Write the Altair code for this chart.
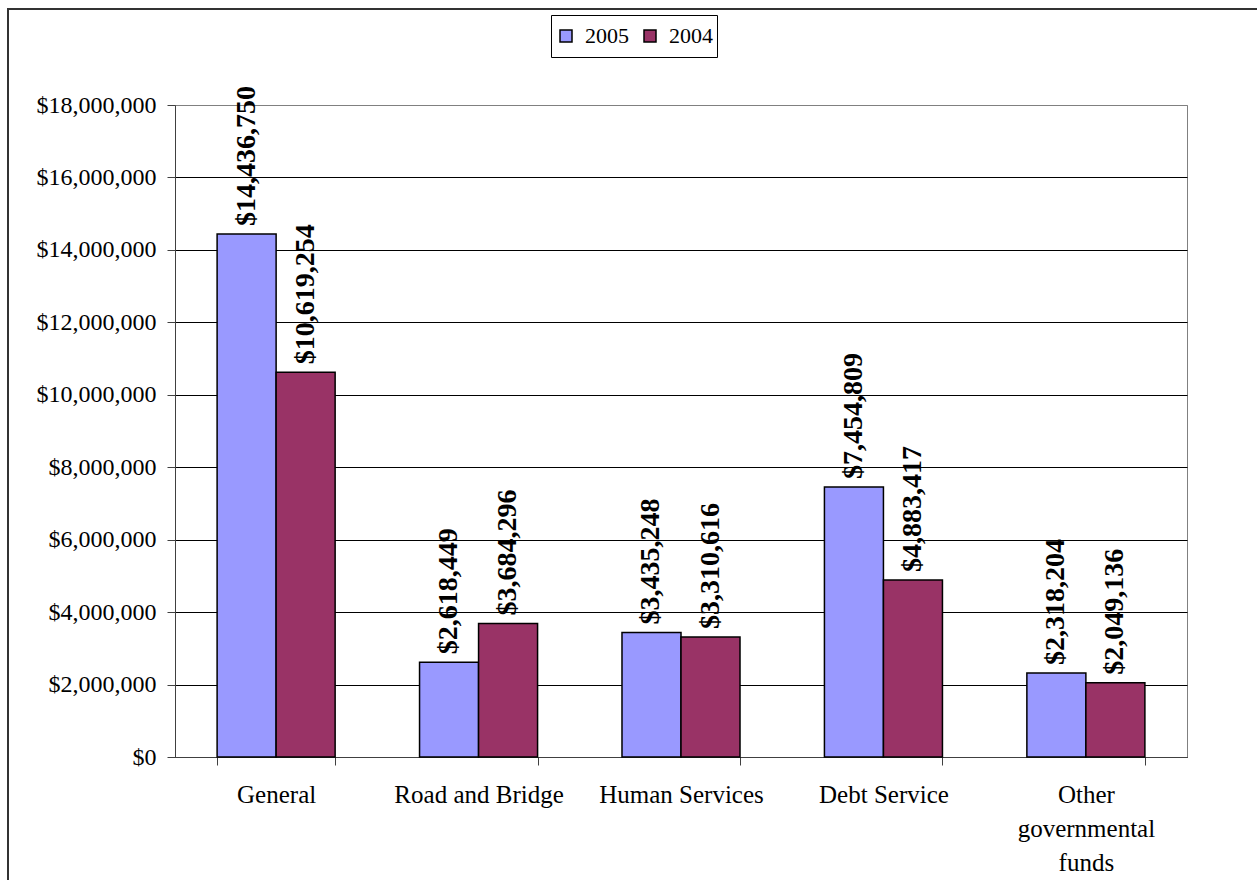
import altair as alt
import pandas as pd

categories = ["General", "Road and Bridge", "Human Services", "Debt Service", "Other governmental funds"]
years = ["2005", "2004"]
values_2005 = [14436750, 2618449, 3435248, 7454809, 2318204]
values_2004 = [10619254, 3684296, 3310616, 4883417, 2049136]
y_ticks = [0, 2000000, 4000000, 6000000, 8000000, 10000000, 12000000, 14000000, 16000000, 18000000]
colors = ["#9999FF", "#993366"]

rows = []
for c, a, b in zip(categories, values_2005, values_2004):
    rows.append({"Fund": c, "Year": "2005", "Amount": a})
    rows.append({"Fund": c, "Year": "2004", "Amount": b})
df = pd.DataFrame(rows)

FONT = "Liberation Serif, Times New Roman, serif"

x_enc = alt.X(
    "Fund:N",
    sort=categories,
    scale=alt.Scale(paddingInner=0.417, paddingOuter=0.208),
    axis=alt.Axis(
        title=None,
        labelAngle=0,
        labelFont=FONT,
        labelFontSize=25,
        labelColor="black",
        labelPadding=17,
        labelLineHeight=34,
        labelBaseline="top",
        labelExpr="datum.label == 'Other governmental funds' ? ['Other', 'governmental', 'funds'] : datum.label",
        tickBand="extent",
        tickSize=8,
        tickColor="#404040",
        domainColor="#404040",
        grid=False,
    ),
)
y_enc = alt.Y(
    "Amount:Q",
    scale=alt.Scale(domain=[0, 18000000], nice=False),
    axis=alt.Axis(
        title=None,
        values=y_ticks,
        format="$,.0f",
        labelFont=FONT,
        labelFontSize=24,
        labelColor="black",
        labelPadding=11,
        tickSize=8,
        tickColor="#404040",
        domainColor="#404040",
        grid=True,
        gridColor={"condition": {"test": "datum.value >= 18000000", "value": "#808080"}, "value": "black"},
        gridWidth=1,
    ),
)
xoff = alt.XOffset("Year:N", sort=years, scale=alt.Scale(paddingInner=0, paddingOuter=0))

bars = alt.Chart(df).mark_bar(stroke="black", strokeWidth=1.5).encode(
    x=x_enc,
    xOffset=xoff,
    y=y_enc,
    color=alt.Color(
        "Year:N",
        sort=years,
        scale=alt.Scale(domain=years, range=colors),
        legend=alt.Legend(
            title=None,
            orient="none",
            legendX=376,
            legendY=-90,
            direction="horizontal",
            symbolType="square",
            symbolSize=144,
            symbolStrokeColor="black",
            symbolStrokeWidth=1.5,
            labelFont=FONT,
            labelFontSize=22,
            labelColor="black",
            labelOffset=8,
            columnPadding=10,
            padding=4,
            clipHeight=34,
            strokeColor="black",
            fillColor="white",
        ),
    ),
)

labels = alt.Chart(df).mark_text(
    angle=270,
    align="left",
    baseline="middle",
    dx=8,
    font=FONT,
    fontSize=28,
    fontWeight="bold",
    color="black",
).encode(
    x=alt.X("Fund:N", sort=categories),
    xOffset=alt.XOffset("Year:N", sort=years),
    y=alt.Y("Amount:Q"),
    text=alt.Text("Amount:Q", format="$,.0f"),
)

frame = alt.Chart(pd.DataFrame({"a": [0]})).mark_rect(
    fillOpacity=0, stroke="#333333", strokeWidth=2
).encode(
    x=alt.value(-167), x2=alt.value(1120), y=alt.value(-96), y2=alt.value(820)
)

chart = alt.layer(frame, bars, labels).properties(
    width=1012,
    height=652,
    padding={"left": 175, "top": 105, "right": 70, "bottom": 123},
    autosize=alt.AutoSizeParams(type="none"),
    background="white",
).configure_view(stroke="#808080", strokeWidth=1)

chart.save("out.html", embed_options={"renderer": "svg", "actions": False})
